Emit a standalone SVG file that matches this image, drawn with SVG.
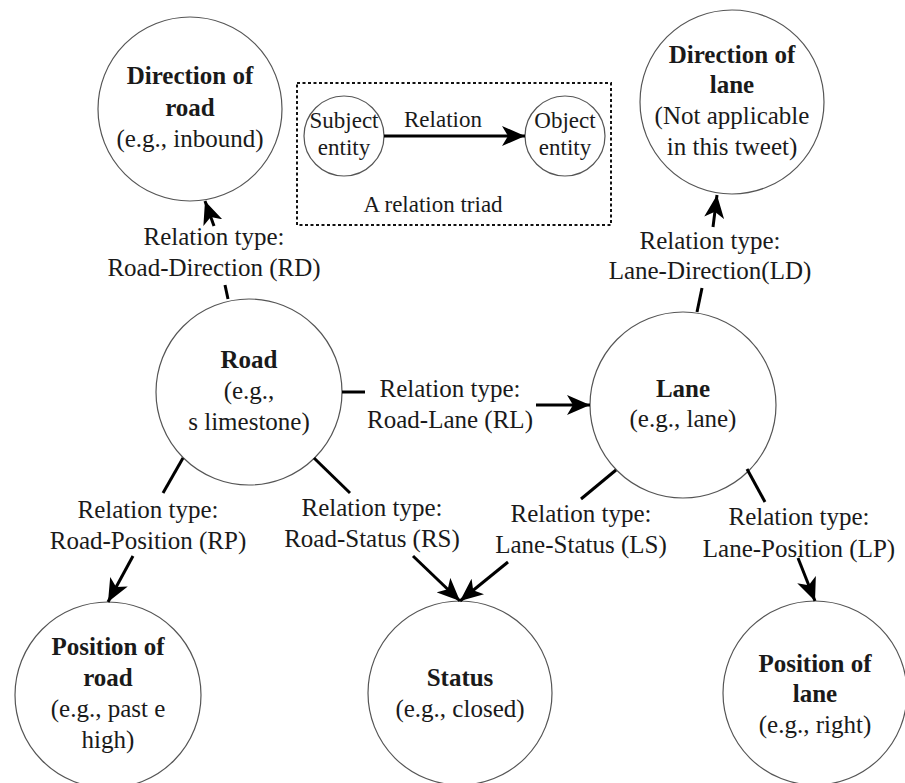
<svg xmlns="http://www.w3.org/2000/svg" width="905" height="783" viewBox="0 0 905 783">
<style>
  .node { fill: #ffffff; stroke: #555555; stroke-width: 1.2; }
  text { font-family: "Liberation Serif", "Times New Roman", serif; fill: #1a1a1a; text-anchor: middle; }
  .t { font-size: 25px; }
  .b { font-size: 25px; font-weight: bold; }
  .s { font-size: 23px; }
  .edge { stroke: #000000; stroke-width: 3; fill: none; }
  .arrow { stroke: #000000; stroke-width: 3; fill: none; marker-end: url(#ah); }
</style>
<defs>
  <marker id="ah" markerUnits="userSpaceOnUse" markerWidth="24" markerHeight="20" viewBox="0 0 24 20" refX="23" refY="10" orient="auto">
    <path d="M0,0 L23,10 L0,20 L6,10 z" fill="#000000"/>
  </marker>
</defs>
<rect width="905" height="783" fill="#ffffff"/>

<g id="legend">
  <rect x="297" y="83" width="314" height="142" fill="none" stroke="#111111" stroke-width="2" stroke-dasharray="3,2.5"/>
  <circle class="node" cx="344" cy="136" r="40"/>
  <circle class="node" cx="565" cy="136" r="40"/>
  <text class="s" x="344" y="128">Subject</text>
  <text class="s" x="344" y="155">entity</text>
  <text class="s" x="565" y="128">Object</text>
  <text class="s" x="565" y="155">entity</text>
  <text class="s" x="443" y="127">Relation</text>
  <line class="arrow" x1="384" y1="136" x2="525" y2="136"/>
  <text class="s" x="433" y="212">A relation triad</text>
</g>

<g id="direction-of-road">
  <circle class="node" cx="190" cy="109" r="92"/>
  <text class="b" x="190" y="84">Direction of</text>
  <text class="b" x="190" y="116">road</text>
  <text class="t" x="190" y="147">(e.g., inbound)</text>
</g>

<g id="direction-of-lane">
  <circle class="node" cx="732" cy="102" r="92"/>
  <text class="b" x="732" y="63">Direction of</text>
  <text class="b" x="732" y="93">lane</text>
  <text class="t" x="732" y="124">(Not applicable</text>
  <text class="t" x="732" y="155">in this tweet)</text>
</g>

<g id="road">
  <circle class="node" cx="249" cy="392" r="93"/>
  <text class="b" x="249" y="368">Road</text>
  <text class="t" x="249" y="399">(e.g.,</text>
  <text class="t" x="249" y="430">s limestone)</text>
</g>

<g id="lane">
  <circle class="node" cx="683" cy="405" r="93"/>
  <text class="b" x="683" y="397">Lane</text>
  <text class="t" x="683" y="427">(e.g., lane)</text>
</g>

<g id="position-of-road">
  <circle class="node" cx="108" cy="695" r="93"/>
  <text class="b" x="108" y="655">Position of</text>
  <text class="b" x="108" y="686">road</text>
  <text class="t" x="108" y="717">(e.g., past e</text>
  <text class="t" x="108" y="748">high)</text>
</g>

<g id="status">
  <circle class="node" cx="460" cy="693" r="92"/>
  <text class="b" x="460" y="686">Status</text>
  <text class="t" x="460" y="717">(e.g., closed)</text>
</g>

<g id="position-of-lane">
  <circle class="node" cx="815" cy="693" r="92"/>
  <text class="b" x="815" y="672">Position of</text>
  <text class="b" x="815" y="702">lane</text>
  <text class="t" x="815" y="733">(e.g., right)</text>
</g>

<g id="connectors">
  <!-- Road-Direction -->
  <line class="edge" x1="228" y1="299" x2="225" y2="285"/>
  <line class="arrow" x1="214" y1="226" x2="205" y2="201"/>
  <text class="t" x="214" y="245">Relation type:</text>
  <text class="t" x="214" y="276">Road-Direction (RD)</text>

  <!-- Lane-Direction -->
  <line class="edge" x1="697" y1="312" x2="702" y2="288"/>
  <line class="arrow" x1="713" y1="227" x2="717" y2="195"/>
  <text class="t" x="710" y="249">Relation type:</text>
  <text class="t" x="710" y="279">Lane-Direction(LD)</text>

  <!-- Road-Lane -->
  <line class="edge" x1="342" y1="392" x2="365" y2="392"/>
  <line class="arrow" x1="536" y1="405" x2="590" y2="405"/>
  <text class="t" x="450" y="397">Relation type:</text>
  <text class="t" x="450" y="428">Road-Lane (RL)</text>

  <!-- Road-Position -->
  <line class="edge" x1="183" y1="458" x2="163" y2="493"/>
  <line class="arrow" x1="133" y1="556" x2="108" y2="602"/>
  <text class="t" x="148" y="518">Relation type:</text>
  <text class="t" x="148" y="549">Road-Position (RP)</text>

  <!-- Road-Status -->
  <line class="edge" x1="314" y1="458" x2="350" y2="493"/>
  <line class="arrow" x1="413" y1="556" x2="460" y2="601"/>
  <text class="t" x="372" y="516">Relation type:</text>
  <text class="t" x="372" y="547">Road-Status (RS)</text>

  <!-- Lane-Status -->
  <line class="edge" x1="616" y1="470" x2="581" y2="499"/>
  <line class="arrow" x1="508" y1="562" x2="460" y2="601"/>
  <text class="t" x="581" y="522">Relation type:</text>
  <text class="t" x="581" y="553">Lane-Status (LS)</text>

  <!-- Lane-Position -->
  <line class="edge" x1="747" y1="469" x2="765" y2="502"/>
  <line class="arrow" x1="798" y1="558" x2="815" y2="601"/>
  <text class="t" x="799" y="525">Relation type:</text>
  <text class="t" x="799" y="557">Lane-Position (LP)</text>
</g>
</svg>
